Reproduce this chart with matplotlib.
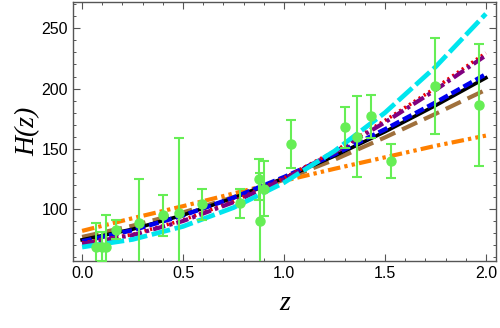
import numpy as np
import matplotlib
matplotlib.use("Agg")
import matplotlib.pyplot as plt

# observed H(z) points
z_obs = [0.07, 0.10, 0.12, 0.17, 0.28, 0.40, 0.48, 0.593, 0.781, 0.875,
         0.88, 0.90, 1.037, 1.30, 1.363, 1.43, 1.53, 1.75, 1.965]
H_obs = [69, 69, 68.6, 83, 88.8, 95, 97, 104, 105, 125,
         90, 117, 154, 168, 160, 177, 140, 202, 186.5]
H_err = [19.6, 12, 26.2, 8, 36.6, 17, 62, 13, 12, 17,
         40, 23, 20, 17, 33.6, 18, 14, 40, 50.4]

# model curves
z_mod = [0.0, 0.25, 0.5, 0.75, 1.0, 1.25, 1.5, 1.75, 2.0]
H_black = [74.6, 83.4, 95.1, 109.3, 125.8, 144.1, 164.2, 185.9, 208.9]
H_blue = [73.3, 82.6, 94.8, 109.6, 126.6, 145.5, 166.2, 188.4, 211.9]
H_red = [72.0, 79.0, 91.0, 106.5, 125.8, 148.0, 173.5, 200.5, 229.5]
H_purple = [71.3, 78.5, 90.2, 105.8, 125.0, 147.2, 172.0, 198.8, 227.5]
H_cyan = [68.6, 74.9, 85.7, 101.3, 122.0, 148.2, 180.0, 217.9, 262.0]
H_brown = [77.0, 86.3, 97.3, 110.0, 124.5, 141.0, 159.5, 179.0, 199.0]
H_orange = [82.0, 92.5, 102.5, 113.0, 123.5, 133.5, 143.0, 152.5, 161.0]

plt.rcParams['font.family'] = ['Liberation Sans', 'DejaVu Sans']

fig = plt.figure(figsize=(5.0, 3.28), dpi=100)
ax = fig.add_axes([0.146, 0.203, 0.846, 0.791])

ax.errorbar(z_obs, H_obs, yerr=H_err, fmt='o', color='#66ee55', ms=6.5,
            elinewidth=1.5, capsize=3.5, capthick=1.5, zorder=10)

ax.plot(z_mod, H_black, color='black', lw=2.6, zorder=3)
ax.plot(z_mod, H_blue, color='#0000ee', lw=3.2, dashes=(2.2, 0.9), zorder=4)
ax.plot(z_mod, H_red, color='#ee0000', lw=2.6, dashes=(0.6, 1.0), zorder=4)
ax.plot(z_mod, H_purple, color='#800080', lw=3.0, dashes=(3.0, 1.0, 0.8, 1.0), zorder=5)
ax.plot(z_mod, H_cyan, color='#00e5ee', lw=3.4, dashes=(4.0, 1.0), zorder=6)
ax.plot(z_mod, H_brown, color='#a0703c', lw=3.0, dashes=(4.0, 1.8), zorder=2)
ax.plot(z_mod, H_orange, color='#ff8000', lw=3.0,
        dashes=(3.0, 1.0, 0.8, 1.0, 0.8, 1.0), zorder=2)

ax.set_xlim(-0.045, 2.05)
ax.set_ylim(56.7, 271.8)
ax.set_xticks([0.0, 0.5, 1.0, 1.5, 2.0])
ax.set_xticklabels(['0.0', '0.5', '1.0', '1.5', '2.0'])
ax.set_xticks(np.arange(0, 2.05, 0.1), minor=True)
ax.set_yticks([100, 150, 200, 250])
ax.set_yticks(np.arange(60, 271, 10), minor=True)
ax.tick_params(which='both', direction='in', top=True, right=True,
               color='#555555', labelsize=11.5)
ax.tick_params(which='major', length=5, width=0.8)
ax.tick_params(which='minor', length=2.5, width=0.7)
for s in ax.spines.values():
    s.set_color('#555555')
    s.set_linewidth(1.0)

ax.set_xlabel('z', family='Liberation Serif', style='italic', fontsize=20, labelpad=7)
ax.set_ylabel('H(z)', family='Liberation Serif', style='italic', fontsize=20, labelpad=1)

fig.savefig('out.png', dpi=100)
